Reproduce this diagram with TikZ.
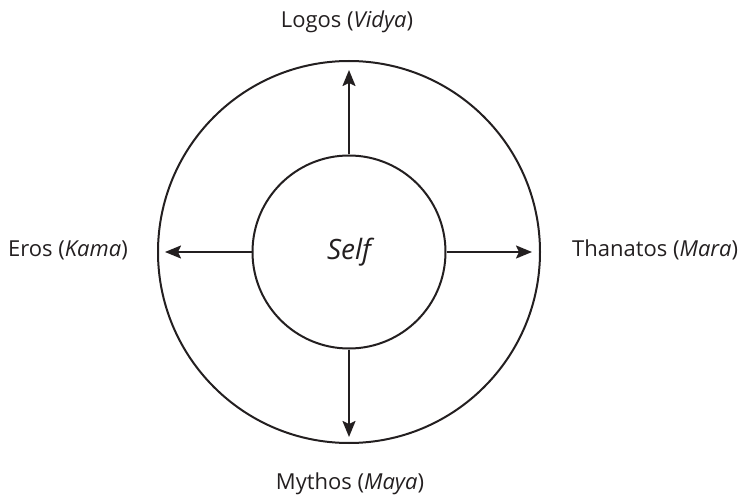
\documentclass[tikz,border=0pt]{standalone}
\usepackage{fontspec}
\setmainfont{Open Sans}
\usetikzlibrary{arrows.meta}
\definecolor{ink}{HTML}{231F20}
\tikzset{
	ring/.style={circle,draw=ink,line width=2pt,inner sep=0pt},
	lbl/.style={inner sep=0pt,text=ink,font=\fontsize{22}{26}\selectfont},
	ray/.style={->,draw=ink,line width=2pt}
}
\begin{document}
\begin{tikzpicture}[x=1pt,y=1pt,>={Stealth[length=16pt,width=13pt,inset=3pt]}]
		\useasboundingbox (0,0) rectangle (745,499);
		\node[ring,minimum size=382pt] (outer) at (349,247) {};
		\node[ring,minimum size=193pt,text=ink,font=\fontsize{28}{32}\selectfont\itshape] (self) at (349,247) {Self};
		% arrow tips, just inside the outer ring
		\coordinate (tipN) at (349,429);
		\coordinate (tipS) at (349,62);
		\coordinate (tipW) at (165,247);
		\coordinate (tipE) at (532,247);
		\draw[ray] (self.north) -- (tipN);
		\draw[ray] (self.south) -- (tipS);
		\draw[ray] (self.west) -- (tipW);
		\draw[ray] (self.east) -- (tipE);
		\node[lbl] (logos) at (347,477) {Logos (\textit{Vidya})};
		\node[lbl] (mythos) at (350,15) {Mythos (\textit{Maya})};
		\node[lbl,anchor=east] (eros) at (128,249) {Eros (\textit{Kama})};
		\node[lbl,anchor=west] (thanatos) at (572,249) {Thanatos (\textit{Mara})};
	\end{tikzpicture}
\end{document}
